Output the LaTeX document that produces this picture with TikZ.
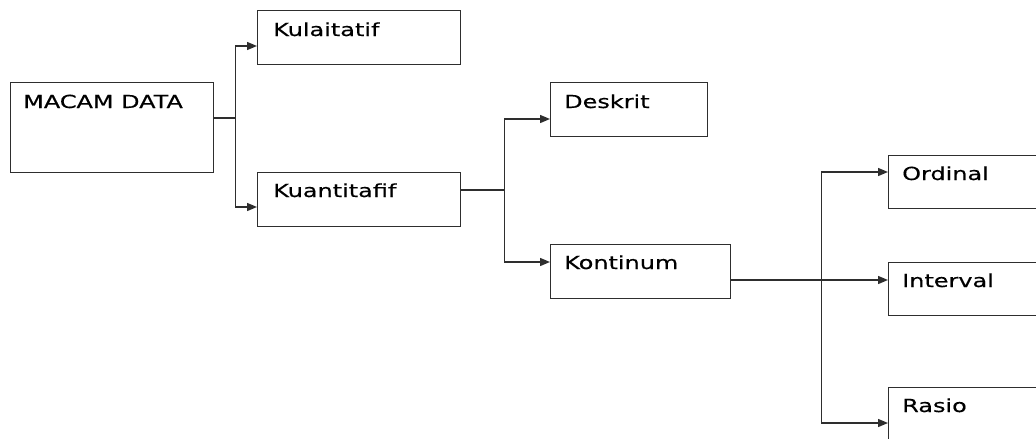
\documentclass[tikz,border=0pt]{standalone}
\usepackage{fontspec}
\newfontfamily\lblfont[FakeStretch=1.33,FakeBold=0.5]{DejaVu Sans}
\usetikzlibrary{arrows.meta,calc}
\definecolor{linegray}{HTML}{2E2E2E}
\begin{document}
\begin{tikzpicture}[x=1pt,y=-1pt,
  box/.style={draw=linegray, line width=1.4pt, rectangle, inner sep=0pt, anchor=north west, minimum height=54pt},
  lbl/.style={anchor=base west, inner sep=0pt, text=black, font=\lblfont\fontsize{18}{20}\selectfont},
  conn/.style={draw=linegray, line width=1.4pt},
  arr/.style={conn, -{Triangle[length=10pt,width=8pt]}}]
\useasboundingbox (0,0) rectangle (1036,439);
\clip (0,0) rectangle (1036,439);
\fill[white] (0,0) rectangle (1036,439);

% boxes
\node[box, minimum width=203pt, minimum height=90pt] (md) at (10,82) {};
\node[box, minimum width=203pt] (kl) at (257,10) {};
\node[box, minimum width=203pt] (ku) at (257,172) {};
\node[box, minimum width=157pt] (de) at (550,82) {};
\node[box, minimum width=180pt] (ko) at (550,244) {};
\node[box, minimum width=200pt, minimum height=53pt] (or) at (888,155) {};
\node[box, minimum width=200pt, minimum height=53pt] (iv) at (888,262) {};
\node[box, minimum width=200pt] (ra) at (888,387) {};

% labels
\node[lbl] (tmd) at ($(md.north west)+(13,26)$) {MACAM DATA};
\node[lbl] (tkl) at ($(kl.north west)+(16,26)$) {Kulaitatif};
\node[lbl] (tku) at ($(ku.north west)+(16,25)$) {Kuantitafif};
\node[lbl] (tde) at ($(de.north west)+(14,26)$) {Deskrit};
\node[lbl] (tko) at ($(ko.north west)+(14,25)$) {Kontinum};
\node[lbl] (tor) at ($(or.north west)+(14,25)$) {Ordinal};
\node[lbl] (tiv) at ($(iv.north west)+(14,25)$) {Interval};
\node[lbl] (tra) at ($(ra.north west)+(14,25)$) {Rasio};

% connectors
\draw[conn] ($(md.north east)+(0,36)$) -- ++(21,0) coordinate (j1);
\draw[arr] (j1) |- ($(kl.north west)+(0,36)$);
\draw[arr] (j1) |- ($(ku.north west)+(0,35)$);

\draw[conn] ($(ku.north east)+(0,18)$) -- ++(43,0) coordinate (j2);
\draw[arr] (j2) |- ($(de.north west)+(0,37)$);
\draw[arr] (j2) |- ($(ko.north west)+(0,18)$);

\coordinate (j3) at ($(ko.north east)+(90,36)$);
\draw[arr] ($(ko.north east)+(0,36)$) -- ($(iv.north west)+(0,18)$);
\draw[arr] (j3) |- ($(or.north west)+(0,17)$);
\draw[arr] (j3) |- ($(ra.north west)+(0,36)$);
\end{tikzpicture}
\end{document}
